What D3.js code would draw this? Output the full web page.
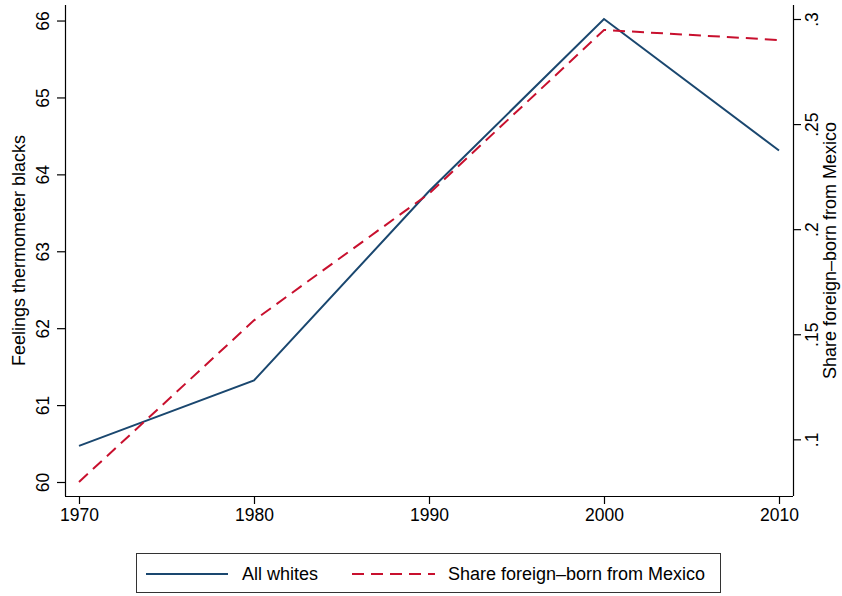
<!DOCTYPE html>
<html>
<head>
<meta charset="utf-8">
<script src="https://cdn.jsdelivr.net/npm/d3@7"></script>
<style>
  html, body { margin: 0; padding: 0; background: #fff; }
  svg { display: block; font-family: "Liberation Sans", Arial, Helvetica, sans-serif; }
</style>
</head>
<body>
<svg id="chart" width="842" height="596"></svg>
<script>
// Census years and the two series
const years = [1970, 1980, 1990, 2000, 2010];
const allWhites = [60.47, 61.32, 63.78, 66.02, 64.31];      // feelings thermometer toward blacks
const shareMexico = [0.0797, 0.1566, 0.2169, 0.2948, 0.2900]; // share of foreign-born from Mexico

const xTicks = [1970, 1980, 1990, 2000, 2010];
const leftTicks = [60, 61, 62, 63, 64, 65, 66];
const rightTicks = [0.1, 0.15, 0.2, 0.25, 0.3];
const rightTickLabels = [".1", ".15", ".2", ".25", ".3"];

const seriesNames = ["All whites", "Share foreign\u2013born from Mexico"];
const colors = ["#1a476f", "#c8102e"];

const svg = d3.select("#chart");
const fontSize = 18;
const tickFont = 17.5;

// Plot region (axis lines) and inner padding before the data range
const plot = { left: 65, right: 793, top: 5, bottom: 496 };
const pad = 14;

const x = d3.scaleLinear()
  .domain([1970, 2010])
  .range([plot.left + pad, plot.right - pad]);

const yLeft = d3.scaleLinear()
  .domain([60, d3.max(allWhites)])
  .range([plot.bottom - pad, plot.top + pad]);

const yRight = d3.scaleLinear()
  .domain([d3.min(shareMexico), 0.3])
  .range([plot.bottom - pad, plot.top + pad]);

// Bottom axis
const gx = svg.append("g")
  .attr("transform", `translate(0,${plot.bottom})`)
  .call(d3.axisBottom(x).tickValues(xTicks).tickFormat(d3.format("d")).tickSize(8).tickSizeOuter(0).tickPadding(5));
gx.select(".domain").attr("d", `M${plot.left},0.5H${plot.right}`);

// Left axis, labels rotated
const gl = svg.append("g")
  .attr("transform", `translate(${plot.left},0)`)
  .call(d3.axisLeft(yLeft).tickValues(leftTicks).tickFormat(d3.format("d")).tickSize(8).tickSizeOuter(0));
gl.select(".domain").attr("d", `M0.5,${plot.top}V${plot.bottom}`);
gl.selectAll(".tick text")
  .attr("x", null).attr("dy", null)
  .attr("text-anchor", "middle")
  .attr("transform", "translate(-16,0) rotate(-90)");

// Right axis, labels rotated
const gr = svg.append("g")
  .attr("transform", `translate(${plot.right},0)`)
  .call(d3.axisRight(yRight).tickValues(rightTicks).tickFormat((d, i) => rightTickLabels[i]).tickSize(8).tickSizeOuter(0));
gr.select(".domain").attr("d", `M0.5,${plot.top}V${plot.bottom}`);
gr.selectAll(".tick text")
  .attr("x", null).attr("dy", null)
  .attr("text-anchor", "middle")
  .attr("transform", "translate(25,0) rotate(-90)");

svg.selectAll(".tick line, .domain").attr("stroke", "#000").attr("stroke-width", 1.2);
svg.selectAll(".tick text").attr("font-size", tickFont).attr("fill", "#000")
  .attr("font-family", "'Liberation Sans', Arial, sans-serif");

// Axis titles
const midY = (plot.top + plot.bottom) / 2;
svg.append("text")
  .attr("transform", `translate(25,${midY}) rotate(-90)`)
  .attr("text-anchor", "middle")
  .attr("font-size", fontSize)
  .text("Feelings thermometer blacks");
svg.append("text")
  .attr("transform", `translate(836,${midY}) rotate(-90)`)
  .attr("text-anchor", "middle")
  .attr("font-size", fontSize)
  .text("Share foreign\u2013born from Mexico");

// Lines
const lineLeft = d3.line().x((d, i) => x(years[i])).y(d => yLeft(d));
const lineRight = d3.line().x((d, i) => x(years[i])).y(d => yRight(d));

svg.append("path")
  .datum(allWhites)
  .attr("d", lineLeft)
  .attr("fill", "none")
  .attr("stroke", colors[0])
  .attr("stroke-width", 2);

svg.append("path")
  .datum(shareMexico)
  .attr("d", lineRight)
  .attr("fill", "none")
  .attr("stroke", colors[1])
  .attr("stroke-width", 2)
  .attr("stroke-dasharray", "12,7");

// Legend
const legend = svg.append("g");
legend.append("rect")
  .attr("x", 136.5).attr("y", 553.5)
  .attr("width", 584).attr("height", 39)
  .attr("fill", "#fff").attr("stroke", "#333").attr("stroke-width", 1);

const legendItems = [
  { name: seriesNames[0], color: colors[0], dash: null, x0: 146, x1: 228, tx: 242 },
  { name: seriesNames[1], color: colors[1], dash: "12,7", x0: 352, x1: 435, tx: 448 }
];
legendItems.forEach(it => {
  legend.append("line")
    .attr("x1", it.x0).attr("x2", it.x1)
    .attr("y1", 574).attr("y2", 574)
    .attr("stroke", it.color).attr("stroke-width", 2)
    .attr("stroke-dasharray", it.dash);
  legend.append("text")
    .attr("x", it.tx).attr("y", 580)
    .attr("font-size", fontSize)
    .text(it.name);
});
</script>
</body>
</html>
